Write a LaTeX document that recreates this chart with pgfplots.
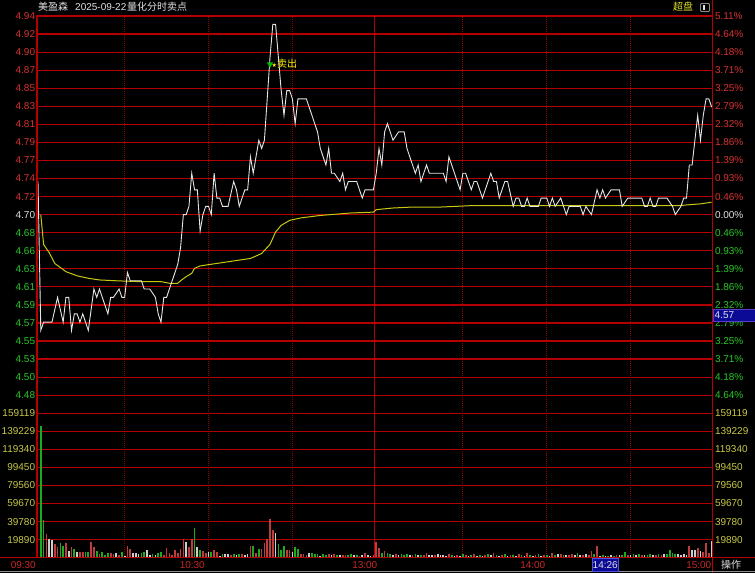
\documentclass[border=0pt]{standalone}
\usepackage{pgfplots}
\usepackage{pgfplotstable}
\pgfplotsset{compat=1.18}
\usepackage{fontspec}
\setmainfont{Liberation Sans}
\newfontfamily\cjk{Noto Sans CJK SC}
\newfontfamily\sym{DejaVu Sans}
\definecolor{gridred}{RGB}{180,0,0}
\definecolor{dotred}{RGB}{150,0,0}
\definecolor{lblred}{RGB}{215,50,50}
\definecolor{lblgreen}{RGB}{40,200,40}
\definecolor{lblwhite}{RGB}{225,225,225}
\definecolor{lblyellow}{RGB}{200,200,70}
\definecolor{avgyellow}{RGB}{200,200,20}
\definecolor{barred}{RGB}{190,60,60}
\definecolor{bargreen}{RGB}{30,170,30}
\definecolor{barwhite}{RGB}{205,205,205}
\definecolor{timered}{RGB}{200,40,40}
\definecolor{pricewhite}{RGB}{230,230,230}
\definecolor{boxblue}{RGB}{10,10,150}

\pgfplotstableread{
i p
0 4.74
1 4.56
2 4.57
5 4.57
7 4.60
9 4.57
10 4.60
11 4.60
12 4.56
13 4.58
14 4.58
15 4.57
16 4.58
17 4.57
18 4.56
20 4.61
21 4.60
22 4.61
23 4.60
25 4.58
26 4.60
27 4.60
29 4.61
30 4.60
31 4.60
32 4.63
33 4.62
37 4.62
38 4.61
40 4.61
42 4.60
43 4.58
44 4.57
45 4.60
46 4.60
47 4.61
48 4.62
49 4.63
50 4.64
51 4.66
52 4.70
53 4.70
54 4.71
55 4.75
56 4.73
57 4.73
58 4.68
59 4.70
60 4.71
61 4.71
62 4.70
63 4.75
64 4.72
65 4.72
66 4.71
68 4.71
70 4.74
71 4.73
72 4.71
74 4.73
75 4.73
76 4.77
77 4.75
79 4.79
80 4.78
81 4.79
82 4.84
83 4.89
84 4.93
85 4.93
86 4.89
87 4.85
88 4.82
89 4.85
90 4.85
91 4.84
92 4.81
93 4.84
94 4.84
96 4.84
97 4.83
98 4.82
99 4.81
100 4.80
101 4.78
102 4.77
103 4.76
104 4.78
105 4.75
106 4.75
108 4.74
109 4.75
110 4.73
111 4.74
114 4.74
115 4.73
116 4.72
117 4.73
120 4.73
121 4.75
122 4.78
123 4.76
124 4.80
125 4.81
127 4.79
129 4.80
131 4.80
132 4.78
133 4.77
135 4.75
136 4.76
137 4.74
139 4.76
140 4.75
145 4.75
146 4.74
147 4.77
148 4.76
149 4.75
151 4.73
152 4.75
153 4.75
154 4.74
155 4.73
156 4.74
157 4.74
158 4.73
159 4.72
160 4.73
162 4.75
163 4.74
164 4.74
165 4.72
167 4.74
168 4.74
170 4.71
171 4.72
172 4.72
173 4.71
174 4.71
175 4.72
176 4.71
179 4.71
180 4.72
182 4.72
183 4.71
184 4.72
185 4.71
187 4.72
188 4.71
189 4.70
190 4.71
194 4.71
195 4.70
196 4.71
198 4.70
200 4.73
201 4.72
202 4.73
203 4.72
205 4.73
208 4.73
209 4.71
211 4.72
216 4.72
217 4.71
218 4.71
219 4.72
220 4.71
221 4.71
222 4.72
225 4.72
227 4.71
228 4.70
230 4.71
231 4.72
232 4.72
233 4.76
234 4.76
235 4.79
236 4.82
237 4.79
238 4.82
239 4.84
240 4.84
241 4.83
}\pricetab

\pgfplotstableread{
i p
1 4.700
2 4.664
4 4.654
6 4.641
8 4.636
10 4.631
14 4.626
18 4.623
22 4.621
28 4.620
36 4.619
44 4.619
47 4.617
50 4.617
51 4.620
53 4.625
55 4.629
56 4.635
58 4.638
64 4.641
70 4.644
76 4.647
80 4.653
83 4.664
85 4.679
87 4.687
90 4.693
94 4.696
101 4.699
112 4.702
120 4.703
121 4.706
127 4.708
133 4.709
143 4.709
156 4.711
201 4.711
230 4.711
233 4.712
237 4.713
241 4.715
}\avgtab

\begin{document}
\begin{tikzpicture}[x=1pt,y=1pt,font=\fontsize{10}{12}\selectfont]
\path[use as bounding box, fill=black] (0,0) rectangle (755,573);

\pgfplotsset{base/.style={at={(37pt,15.3pt)}, anchor=south west, scale only axis,
  width=675.5pt, height=541.7pt, xmin=-0.358, xmax=241.3,
  axis line style={draw=none}, tick style={draw=none}, xtick=\empty,
  clip=false}}

% frame / grid axis
\begin{axis}[base, ymin=-19, ymax=11, ytick={-18,...,11}, yticklabels={},
  ymajorgrids, grid style={gridred, line width=1.2pt}]
\draw[dotred, line width=1pt, densely dotted] (axis cs:30.8,-19) -- (axis cs:30.8,11);
\draw[dotred, line width=1pt, densely dotted] (axis cs:60.9,-19) -- (axis cs:60.9,11);
\draw[dotred, line width=1pt, densely dotted] (axis cs:91.1,-19) -- (axis cs:91.1,11);
\draw[gridred, line width=1pt] (axis cs:120.4,-19) -- (axis cs:120.4,11);
\draw[dotred, line width=1pt, densely dotted] (axis cs:151.9,-19) -- (axis cs:151.9,11);
\draw[dotred, line width=1pt, densely dotted] (axis cs:182,-19) -- (axis cs:182,11);
\draw[dotred, line width=1pt, densely dotted] (axis cs:212,-19) -- (axis cs:212,11);
\end{axis}

% volume axis
\begin{axis}[base, ymin=0, ymax=596696, ytick=\empty]
\addplot[ycomb, barred, line width=1.7pt] coordinates {(3,25800)(6,15100)(7,12200)(10,15800)(12,12200)(15,5900)(16,5900)(19,16900)(20,11400)(22,4100)(26,5500)(27,4100)(29,3000)(32,13300)(33,9600)(45,3000)(46,10300)(47,4800)(48,3000)(49,8500)(50,4800)(51,9900)(52,20600)(54,12200)(55,20600)(59,7700)(60,4800)(63,8500)(64,6600)(69,3000)(73,4100)(76,12900)(78,4800)(80,9200)(81,15800)(82,20600)(83,42300)(84,30600)(89,8500)(90,8500)(94,4100)(95,4100)(96,3000)(104,4100)(106,4100)(109,3000)(110,3300)(115,2200)(117,5200)(120,3000)(121,17700)(122,11000)(124,7400)(128,3700)(134,3000)(138,3000)(139,4800)(142,3000)(147,4100)(150,3300)(153,3300)(156,4400)(160,3300)(163,5500)(166,3300)(169,3300)(172,4400)(175,5500)(178,3300)(181,3300)(184,5500)(187,4400)(190,3300)(191,4400)(195,3300)(197,3300)(198,7700)(200,13300)(207,3300)(211,3300)(216,3300)(221,3300)(223,3300)(233,13300)(236,11000)(238,6600)(239,15800)(240,5500)};
\addplot[ycomb, bargreen, line width=1.7pt] coordinates {(1,145500)(2,41600)(8,15800)(9,12900)(13,9200)(17,5900)(18,5900)(21,7700)(23,6300)(24,3000)(25,4800)(30,5900)(37,4800)(38,5900)(41,4100)(43,4800)(44,5900)(56,32400)(58,8500)(62,6600)(66,4100)(70,4100)(72,4100)(77,12900)(79,9200)(86,15100)(87,8500)(88,12900)(92,11400)(93,9600)(98,4800)(99,4100)(100,4100)(102,4100)(103,3000)(107,3000)(111,3000)(112,4100)(114,3000)(123,5000)(125,4800)(126,3700)(130,3700)(131,3000)(132,3700)(135,4100)(137,3000)(148,3300)(152,4400)(155,3300)(158,3300)(161,4400)(164,3300)(167,4400)(170,3300)(173,3300)(176,3300)(179,4400)(182,3300)(185,3300)(188,3300)(193,5500)(199,4400)(202,3300)(204,2200)(206,2200)(209,3300)(210,6600)(213,4400)(215,4400)(218,3300)(219,4400)(222,4400)(225,4400)(226,8800)(227,5500)(228,4400)};
\addplot[ycomb, barwhite, line width=1.7pt] coordinates {(4,20300)(5,19500)(11,7700)(14,6600)(28,4800)(31,2200)(34,5500)(35,5500)(36,4100)(39,8500)(40,3300)(42,3000)(53,17700)(57,12200)(61,6600)(65,2200)(67,4100)(68,4100)(71,3000)(74,3000)(75,4100)(85,26900)(91,6600)(97,4800)(101,2200)(105,3000)(108,3000)(113,3000)(116,3300)(118,3000)(119,2200)(127,3000)(129,3000)(133,3000)(136,3000)(140,3000)(141,3000)(143,3700)(144,3000)(145,3000)(146,2200)(149,2200)(151,2200)(154,2200)(157,2200)(159,2200)(162,3300)(165,2200)(168,2200)(171,2200)(174,2200)(177,2200)(180,2200)(183,2200)(186,4400)(189,3300)(192,3300)(194,3300)(196,4400)(201,2200)(203,2200)(205,3300)(208,3300)(212,3300)(214,3300)(217,3300)(220,3300)(224,4400)(229,4400)(230,3300)(231,4400)(232,3300)(234,8800)(235,8800)(237,7700)(241,18400)};
\end{axis}

% price axis
\begin{axis}[base, ymin=4.285153, ymax=4.940174, ytick=\empty]
\addplot[avgyellow, line width=1pt] table[x=i, y=p] {\avgtab};
\addplot[pricewhite, line width=0.9pt] table[x=i, y=p] {\pricetab};
\addplot[only marks, mark=triangle*, mark size=3.2pt, mark options={rotate=180, fill=green!75!black, draw=green!75!black}] coordinates {(83,4.882)};
\node[anchor=west, inner sep=0, text=yellow, xshift=1.5pt] at (axis cs:83,4.882) {{\sym\fontsize{6}{6}\selectfont ★}{\cjk 卖出}};
\end{axis}

% borders
\draw[gridred, line width=1.3pt] (37,15.3) -- (37,557.5);
\draw[gridred, line width=1.3pt] (712.5,0) -- (712.5,573);
\draw[gridred, line width=1.3pt] (0,15.3) -- (755,15.3);
\draw[black!45, line width=1pt] (0,1.3) -- (755,1.3);

% axis labels
\foreach \k/\t/\c in {11/4.94/lblred,10/4.92/lblred,9/4.90/lblred,8/4.87/lblred,7/4.85/lblred,6/4.83/lblred,5/4.81/lblred,4/4.79/lblred,3/4.77/lblred,2/4.74/lblred,1/4.72/lblred,0/4.70/lblwhite,-1/4.68/lblgreen,-2/4.66/lblgreen,-3/4.63/lblgreen,-4/4.61/lblgreen,-5/4.59/lblgreen,-6/4.57/lblgreen,-7/4.55/lblgreen,-8/4.53/lblgreen,-9/4.50/lblgreen,-10/4.48/lblgreen,-11/159119/lblyellow,-12/139229/lblyellow,-13/119340/lblyellow,-14/99450/lblyellow,-15/79560/lblyellow,-16/59670/lblyellow,-17/39780/lblyellow,-18/19890/lblyellow}
  {\node[anchor=east, inner sep=0, text=\c] at (35.3,{557+(\k-11)*18.0567}) {\t};}
\foreach \k/\t/\c in {11/5.11\%/lblred,10/4.64\%/lblred,9/4.18\%/lblred,8/3.71\%/lblred,7/3.25\%/lblred,6/2.79\%/lblred,5/2.32\%/lblred,4/1.86\%/lblred,3/1.39\%/lblred,2/0.93\%/lblred,1/0.46\%/lblred,0/0.00\%/lblwhite,-1/0.46\%/lblgreen,-2/0.93\%/lblgreen,-3/1.39\%/lblgreen,-4/1.86\%/lblgreen,-5/2.32\%/lblgreen,-6/2.79\%/lblgreen,-7/3.25\%/lblgreen,-8/3.71\%/lblgreen,-9/4.18\%/lblgreen,-10/4.64\%/lblgreen,-11/159119/lblyellow,-12/139229/lblyellow,-13/119340/lblyellow,-14/99450/lblyellow,-15/79560/lblyellow,-16/59670/lblyellow,-17/39780/lblyellow,-18/19890/lblyellow}
  {\node[anchor=west, inner sep=0, text=\c] at (714.8,{557+(\k-11)*18.0567}) {\t};}

% current price box
\draw[fill=boxblue, draw={rgb,255:red,90;green,60;blue,200}, line width=0.8pt] (713,251.3) rectangle (755,264);
\node[anchor=west, inner sep=0, text=lblwhite] at (714.5,257.6) {4.57};

% header
\node[anchor=west, inner sep=0, text=lblwhite] at (38,566) {\cjk 美盈森};
\node[anchor=west, inner sep=0, text=lblwhite] at (75,566) {2025-09-22};
\node[anchor=west, inner sep=0, text=lblwhite] at (127,566) {\cjk 量化分时卖点};
\node[anchor=west, inner sep=0, text={rgb,255:red,220;green,220;blue,40}] at (673,566) {\cjk 超盘};
\draw[black!45, line width=0.8pt, rounded corners=1pt] (700.5,561.5) rectangle (709.5,569.5);
\fill[lblwhite] (702.5,563) rectangle (705,568);

% time labels
\node[anchor=east, inner sep=0, text=timered] at (36,8) {09:30};
\node[anchor=east, inner sep=0, text=timered] at (205,8) {10:30};
\node[anchor=east, inner sep=0, text=timered] at (377.5,8) {13:00};
\node[anchor=east, inner sep=0, text=timered] at (545.5,8) {14:00};
\draw[fill=boxblue, draw={rgb,255:red,80;green,80;blue,220}, line width=0.8pt] (592,1.5) rectangle (618.5,14.5);
\node[anchor=center, inner sep=0, text=lblwhite] at (605.2,8) {14:26};
\node[anchor=east, inner sep=0, text=timered] at (711.5,8) {15:00};
\node[anchor=west, inner sep=0, text=lblwhite] at (721,8) {\cjk 操作};
\end{tikzpicture}
\end{document}
